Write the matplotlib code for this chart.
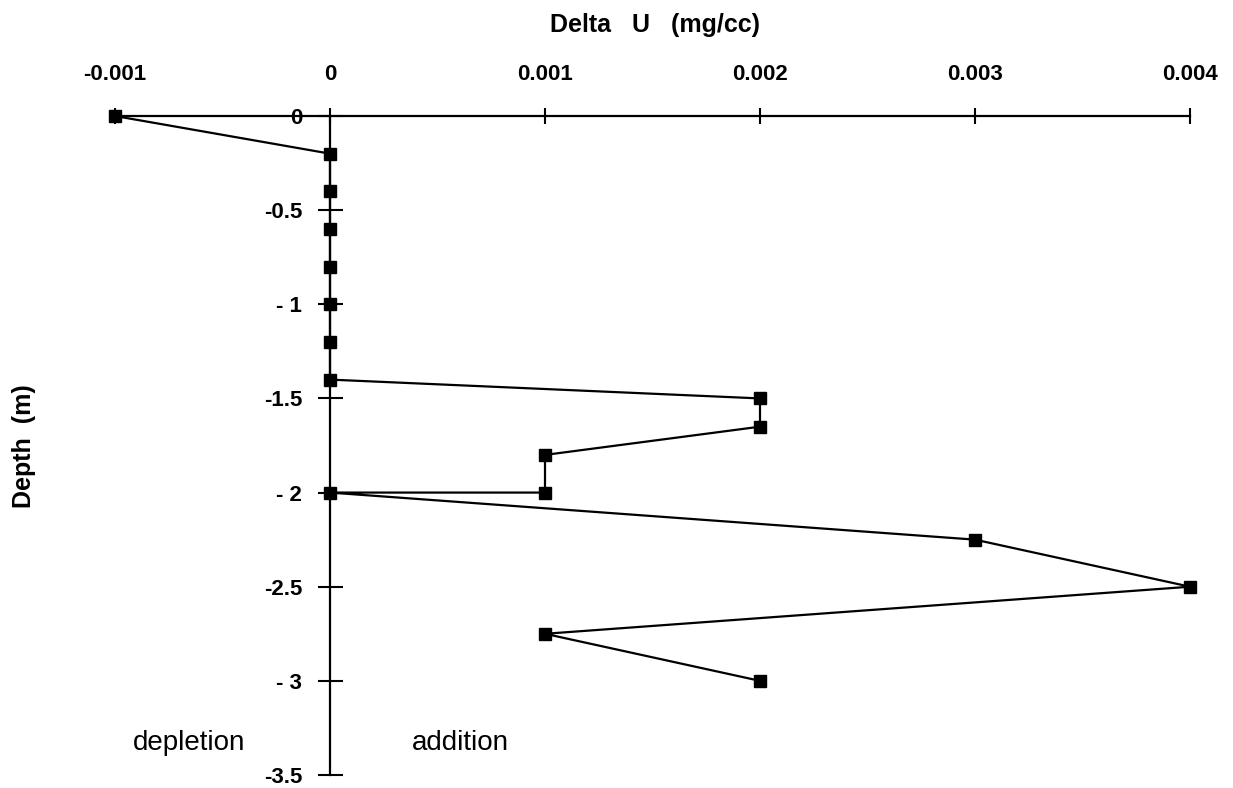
import matplotlib
matplotlib.use("Agg")
import matplotlib.pyplot as plt

delta_u = [-0.001, 0, 0, 0, 0, 0, 0, 0, 0.002, 0.002, 0.001, 0.001, 0, 0.003, 0.004, 0.001, 0.002]
depth = [0, -0.2, -0.4, -0.6, -0.8, -1.0, -1.2, -1.4, -1.5, -1.65, -1.8, -2.0, -2.0, -2.25, -2.5, -2.75, -3.0]
x_ticks = [-0.001, 0, 0.001, 0.002, 0.003, 0.004]
x_tick_labels = ["-0.001", "0", "0.001", "0.002", "0.003", "0.004"]
y_ticks = [0, -0.5, -1, -1.5, -2, -2.5, -3, -3.5]
y_tick_labels = ["0", "-0.5", "- 1", "-1.5", "- 2", "-2.5", "- 3", "-3.5"]

plt.rcParams['font.family'] = ['Liberation Sans', 'DejaVu Sans']

W, H = 1233, 788
fig = plt.figure(figsize=(W / 100, H / 100), dpi=100)
ax = fig.add_axes([115 / W, 1 - 775 / H, (1190 - 115) / W, (775 - 116) / H])

ax.plot(delta_u, depth, color='black', lw=1.6, marker='s', markersize=8,
        markerfacecolor='black', markeredgecolor='black', clip_on=False, zorder=5)

ax.set_xlim(-0.001, 0.004)
ax.set_ylim(-3.5, 0)

ax.spines['right'].set_visible(False)
ax.spines['bottom'].set_visible(False)
ax.spines['left'].set_position(('data', 0))
ax.spines['top'].set_linewidth(1.6)
ax.spines['left'].set_linewidth(1.6)

ax.xaxis.tick_top()
ax.set_xticks(x_ticks)
ax.set_xticklabels(x_tick_labels, fontsize=16, fontweight='bold')
ax.set_yticks(y_ticks)
ax.set_yticklabels(y_tick_labels, fontsize=16, fontweight='bold')
ax.tick_params(axis='x', direction='inout', length=12, width=1.5, pad=16)
ax.tick_params(axis='y', direction='inout', length=18, width=1.5, pad=11)

fig.text(655 / W, 1 - 25 / H, 'Delta   U   (mg/cc)', fontsize=18,
         fontweight='bold', ha='center', va='center')
fig.text(24 / W, 1 - 446 / H, 'Depth  (m)', rotation=90, fontsize=18,
         fontweight='bold', ha='center', va='center')

ax.text(-0.000916, -3.367, 'depletion', fontsize=20, ha='left', va='baseline')
ax.text(0.000381, -3.367, 'addition', fontsize=20, ha='left', va='baseline')

fig.savefig('out.png', dpi=100)
